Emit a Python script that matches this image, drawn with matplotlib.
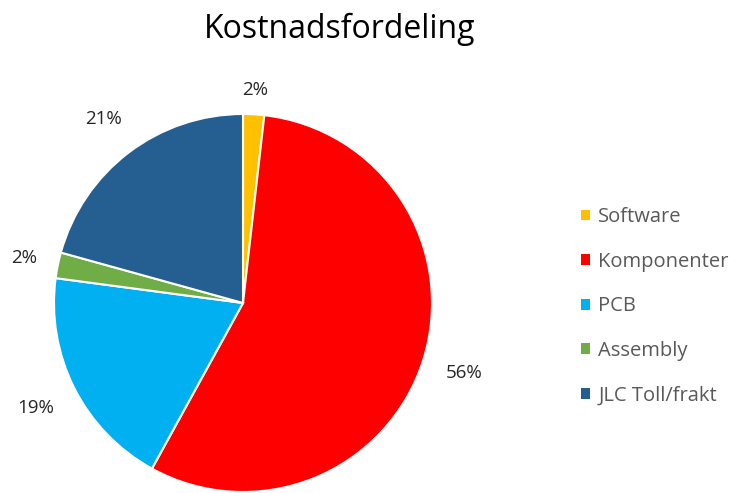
import numpy as np
import matplotlib.pyplot as plt
from matplotlib.patches import Patch

# Cost breakdown (percent of total)
categories = ['Software', 'Komponenter', 'PCB', 'Assembly', 'JLC Toll/frakt']
shares = [1.8, 56.2, 19.1, 2.2, 20.7]
colors = ['#FFC000', '#FF0000', '#00B0F0', '#70AD47', '#255E91']
# radial distance of each percentage label (in pie radii)
label_dist = [1.13, 1.23, 1.23, 1.18, 1.22]

plt.rcParams['font.family'] = ['Open Sans', 'DejaVu Sans']

fig = plt.figure(figsize=(7.35, 4.93), dpi=100)
W, H = 735, 493
cx, cy, r = 243, 303, 189
ax = fig.add_axes([(cx - r) / W, (H - cy - r) / H, 2 * r / W, 2 * r / H])

wedges, texts, autotexts = ax.pie(
    shares, colors=colors, startangle=90, counterclock=False,
    autopct='%.0f%%', pctdistance=1.2,
    wedgeprops=dict(edgecolor='white', linewidth=1.5),
    textprops=dict(fontsize=13.5, color='#262626'),
)
for w, t, d in zip(wedges, autotexts, label_dist):
    ang = np.deg2rad((w.theta1 + w.theta2) / 2)
    t.set_position((d * np.cos(ang), d * np.sin(ang)))
    t.set_clip_on(False)
ax.set_xlim(-1, 1)
ax.set_ylim(-1, 1)
ax.set_axis_off()

fig.text(340 / W, 1 - 29 / H, 'Kostnadsfordeling', ha='center', va='center',
         fontsize=23, color='#000000')

handles = [Patch(facecolor=c, edgecolor='none') for c in colors]
fig.legend(handles, categories, loc='upper left',
           bbox_to_anchor=(563 / W, 1 - 189 / H), frameon=False,
           fontsize=14.5, labelcolor='#595959', handlelength=0.45,
           handleheight=0.45, handletextpad=0.4, labelspacing=1.22)

fig.savefig('out.png', dpi=100)
